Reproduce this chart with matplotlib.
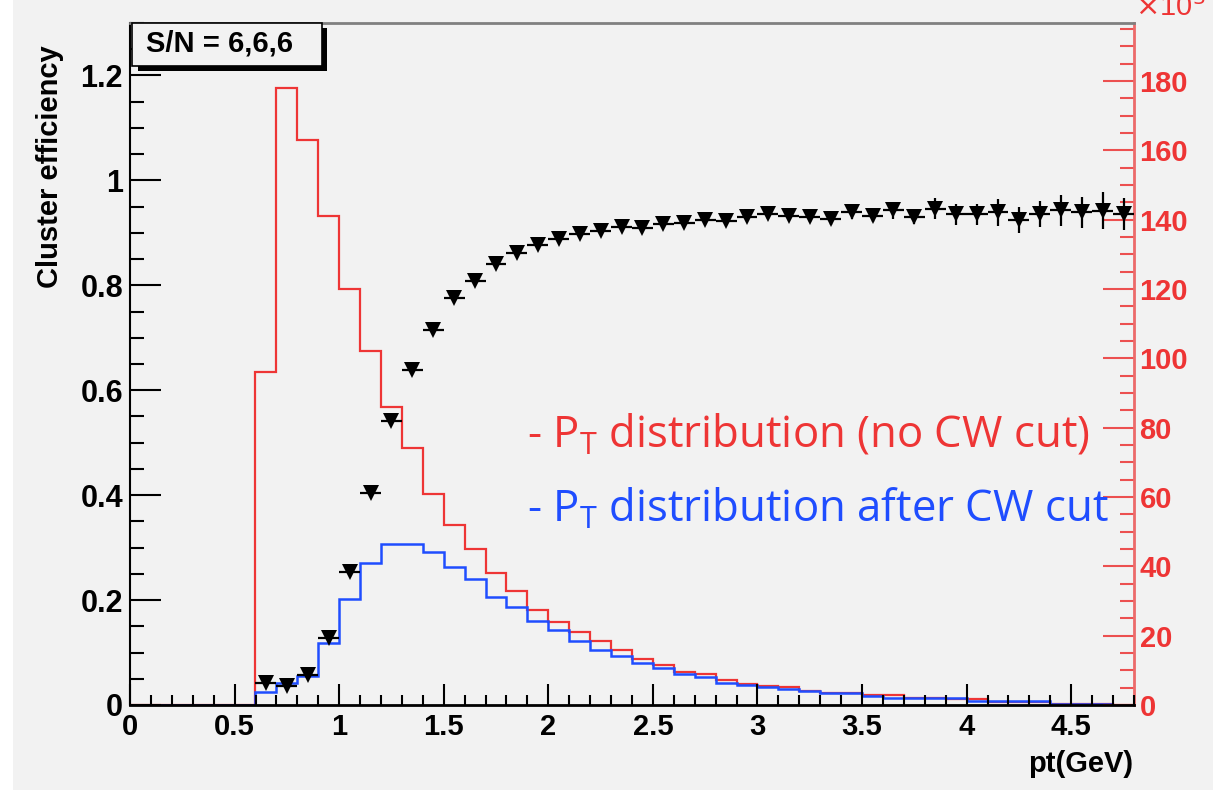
import numpy as np
import matplotlib
matplotlib.use("Agg")
import matplotlib.pyplot as plt
from matplotlib.ticker import MultipleLocator, FuncFormatter
from matplotlib.patches import Rectangle

# ---------------- data ----------------
bin_edges = np.round(np.arange(0.0, 4.81, 0.1), 2)          # 48 bins, width 0.1

# P_T distribution (no CW cut), units of 10^3, bins 0.0 .. 4.8
pt_red = [0, 0, 0, 0, 0, 0,
          96, 178, 163, 141, 120, 102, 86, 74, 61, 52,
          45, 38, 33, 27.5, 24, 21, 18.6, 16, 13.3, 11.5,
          9.6, 8.8, 7.1, 6.2, 5.5, 5.1, 4.1, 3.5, 3.5, 2.9,
          2.9, 1.9, 1.9, 1.6, 1.6, 0.9, 0.9, 0.9, 0.3, 0.3,
          0.3, 0.1]

# P_T distribution after CW cut, units of 10^3, bins 0.0 .. 4.7
pt_blue = [0, 0, 0, 0, 0, 0,
           3.7, 6.3, 8.4, 17.9, 30.6, 41, 46.4, 46.4, 44, 39.8,
           36.3, 31.2, 28.3, 24.2, 21.5, 18.6, 16, 14.1, 12.2, 10.6,
           8.8, 8.0, 6.4, 5.9, 5.3, 4.6, 3.9, 3.5, 3.5, 2.7,
           2.1, 1.9, 1.9, 1.9, 1.1, 1.1, 1.1, 1.1, 0.3, 0.3,
           0.3]

# cluster efficiency points (bin centres 0.65 .. 4.75)
eff_x = np.round(np.arange(0.65, 4.76, 0.1), 2)
eff_y = [0.042, 0.036, 0.057, 0.128, 0.253, 0.404, 0.541, 0.638, 0.714, 0.775,
         0.808, 0.840, 0.861, 0.876, 0.888, 0.897, 0.903, 0.911, 0.909, 0.916,
         0.918, 0.924, 0.922, 0.930, 0.935, 0.933, 0.931, 0.927, 0.939, 0.933,
         0.943, 0.931, 0.946, 0.935, 0.935, 0.939, 0.924, 0.936, 0.943, 0.939,
         0.942, 0.936]
eff_err = [0.003, 0.003, 0.003, 0.003, 0.003, 0.003, 0.003, 0.003, 0.003, 0.004,
           0.004, 0.004, 0.004, 0.004, 0.004, 0.005, 0.005, 0.005, 0.006, 0.006,
           0.006, 0.007, 0.007, 0.008, 0.008, 0.009, 0.010, 0.012, 0.012, 0.013,
           0.016, 0.015, 0.020, 0.020, 0.020, 0.025, 0.025, 0.025, 0.030, 0.030,
           0.035, 0.030]
eff_xerr = 0.05

x_ticks = [0, 0.5, 1, 1.5, 2, 2.5, 3, 3.5, 4, 4.5]
left_ticks = [0, 0.2, 0.4, 0.6, 0.8, 1, 1.2]
right_ticks = [0, 20, 40, 60, 80, 100, 120, 140, 160, 180]

# ---------------- figure ----------------
W, H = 1231, 790
fig = plt.figure(figsize=(W / 100, H / 100), dpi=100, facecolor="white")
BG = "#f2f2f2"
RED = "#ee3535"
BLUE = "#1f4dff"

def fx(px):
    return px / W

def fy(py):
    return 1 - py / H

fig.patches.append(Rectangle((fx(13), 0), fx(1213) - fx(13), 1, transform=fig.transFigure,
                             facecolor=BG, edgecolor="none", zorder=-10))

L, R, T, B = 130, 1134, 23, 705
ax2 = fig.add_axes([fx(L), fy(B), fx(R) - fx(L), fy(T) - fy(B)])
ax = fig.add_axes([fx(L), fy(B), fx(R) - fx(L), fy(T) - fy(B)], sharex=ax2)
ax2.set_facecolor(BG)
ax.patch.set_visible(False)

# histograms on right axis
ax2.stairs(pt_red, bin_edges, color=RED, lw=1.6, baseline=None)
ax2.stairs(pt_blue, bin_edges[:len(pt_blue) + 1], color=BLUE, lw=1.8, baseline=None)
ax2.set_ylim(0, 196.7)
ax2.set_xlim(0, 4.8)

# efficiency points on left axis
ax.errorbar(eff_x, eff_y, yerr=eff_err, xerr=eff_xerr, fmt="v", color="black",
            ms=11, elinewidth=1.6, capsize=0, markeredgewidth=0)
ax.set_ylim(0, 1.3)
ax.set_xlim(0, 4.8)

# spines
ax.spines["right"].set_visible(False)
for s in ["left", "top", "bottom"]:
    ax2.spines[s].set_visible(False)
ax.spines["left"].set_color("black")
ax.spines["left"].set_linewidth(1.5)
ax.spines["bottom"].set_color("black")
ax.spines["bottom"].set_linewidth(2)
ax.spines["top"].set_color("#808080")
ax.spines["top"].set_linewidth(2)
ax2.spines["right"].set_color("#ec6a6a")
ax2.spines["right"].set_linewidth(2)

# ticks
ax.xaxis.set_major_locator(MultipleLocator(0.5))
ax.xaxis.set_minor_locator(MultipleLocator(0.1))
ax.yaxis.set_major_locator(MultipleLocator(0.2))
ax.yaxis.set_minor_locator(MultipleLocator(0.05))
ax2.yaxis.set_major_locator(MultipleLocator(20))
ax2.yaxis.set_minor_locator(MultipleLocator(5))
ax.set_xticks(x_ticks)
ax.set_yticks(left_ticks)
ax2.set_yticks(right_ticks)
fmt = FuncFormatter(lambda v, p: "%g" % v)
ax.xaxis.set_major_formatter(fmt)
ax.yaxis.set_major_formatter(fmt)
ax2.yaxis.set_major_formatter(FuncFormatter(lambda v, p: "%d" % v))
ax2.yaxis.tick_right()

ax.tick_params(axis="x", which="both", direction="in", top=False, bottom=True,
               labelbottom=True, colors="black", width=1.5)
ax.tick_params(axis="x", which="major", length=15, pad=6, labelsize=21)
ax.tick_params(axis="x", which="minor", length=7)
ax.tick_params(axis="y", which="both", direction="in", left=True, right=False, width=1.5)
ax.tick_params(axis="y", which="major", length=22, pad=5, labelsize=22)
ax.tick_params(axis="y", which="minor", length=10)
ax2.tick_params(axis="x", which="both", bottom=False, top=False, labelbottom=False)
ax2.tick_params(axis="y", which="both", direction="in", left=False, right=True,
                labelleft=False, labelright=True,
                color="#ec5050", labelcolor=RED, width=1.5)
ax2.tick_params(axis="y", which="major", length=22, pad=4, labelsize=21)
ax2.tick_params(axis="y", which="minor", length=10)
for lab in ax.get_xticklabels() + ax.get_yticklabels() + ax2.get_yticklabels():
    lab.set_fontfamily("Liberation Sans")
    lab.set_fontweight("bold")

# axis labels
fig.text(fx(50), fy(167), "Cluster efficiency", rotation=90, ha="center", va="center",
         fontsize=21, fontweight="bold", family="Liberation Sans")
fig.text(fx(1133), fy(764), "pt(GeV)", ha="right", va="center",
         fontsize=21, fontweight="bold", family="Liberation Sans")
fig.text(fx(1135), fy(16), r"$\times$10$^{3}$", ha="left", va="baseline",
         fontsize=21, color=RED, family="Liberation Sans")

# cut-off title
fig.text(fx(692), fy(-10), "Cluster efficiency", ha="right", va="baseline",
         fontsize=36, fontweight="bold", color=RED, family="Liberation Sans")

# S/N box with shadow
fig.patches.append(Rectangle((fx(138), fy(71)), fx(327) - fx(138), fy(28) - fy(71),
                             transform=fig.transFigure, facecolor="black",
                             edgecolor="none", zorder=5))
fig.patches.append(Rectangle((fx(132), fy(66)), fx(322) - fx(132), fy(23) - fy(66),
                             transform=fig.transFigure, facecolor=BG,
                             edgecolor="black", lw=1.2, zorder=6))
fig.text(fx(220), fy(44), "S/N = 6,6,6", ha="center", va="center", fontsize=21,
         fontweight="bold", family="Liberation Sans", zorder=7)

# legend texts
fig.text(fx(527), fy(447), r"- $\mathregular{P_T}$ distribution (no CW cut)", ha="left",
         va="baseline", fontsize=31.5, color=RED, family="Open Sans")
fig.text(fx(527), fy(522), r"- $\mathregular{P_T}$ distribution after CW cut", ha="left",
         va="baseline", fontsize=31.5, color=BLUE, family="Open Sans")

fig.savefig("out.png", dpi=100, facecolor=fig.get_facecolor())
